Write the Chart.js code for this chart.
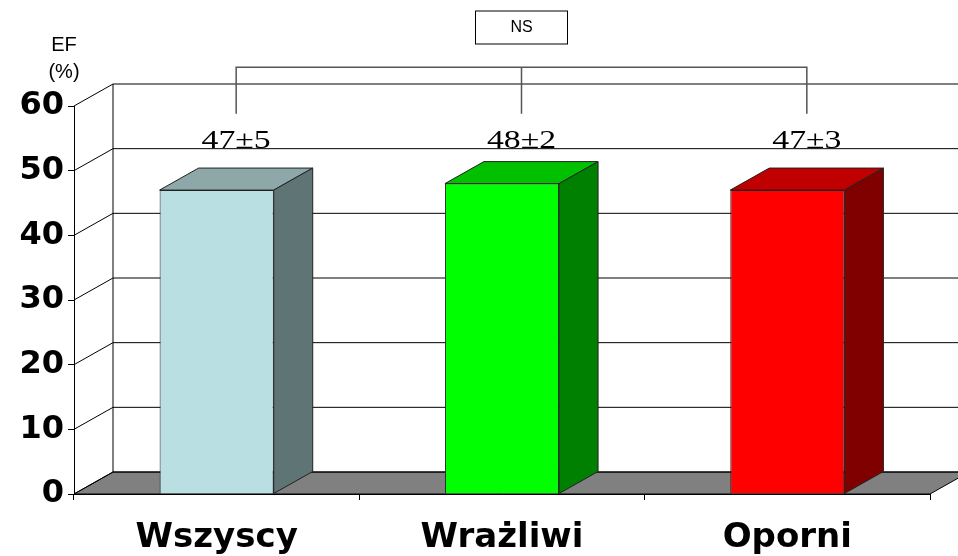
<!DOCTYPE html>
<html>
<head>
<meta charset="utf-8">
<script src="https://cdn.jsdelivr.net/npm/chart.js@4"></script>
<style>
  body { margin: 0; background: #fff; }
  #wrap { width: 958px; height: 556px; }
</style>
</head>
<body>
<div id="wrap"><canvas id="barEF" width="958" height="556"></canvas></div>
<script>
// dados
const grupos = ['Wszyscy', 'Wrażliwi', 'Oporni'];
const efMedia = [47, 48, 47];
const efDesvio = [5, 2, 3];
const yTicks = [0, 10, 20, 30, 40, 50, 60];

// cores
const corFrente = ['#b9dfe3', '#00ff00', '#ff0000'];
const corLado = ['#5e7475', '#008000', '#800000'];
const corTopo = ['#8ea8aa', '#00c000', '#c00000'];

// profundidade do efeito 3D
const DX = 39, DY = -22;

function poly(ctx, pts, fill) {
    ctx.beginPath();
    ctx.moveTo(pts[0][0], pts[0][1]);
    for (let i = 1; i < pts.length; i++) ctx.lineTo(pts[i][0], pts[i][1]);
    ctx.closePath();
    if (fill) { ctx.fillStyle = fill; ctx.fill(); }
    ctx.stroke();
}

const caixa3d = {
    id: 'caixa3d',
    beforeDatasetsDraw(chart) {
        const { ctx, chartArea: a, scales: { y } } = chart;
        const y0 = y.getPixelForValue(0);
        ctx.save();
        ctx.strokeStyle = '#000';
        ctx.lineWidth = 1;
        // chao
        poly(ctx, [[a.left, y0], [a.right, y0], [a.right + DX, y0 + DY], [a.left + DX, y0 + DY]], '#808080');
        // parede do fundo e lateral
        yTicks.forEach(v => {
            const py = y.getPixelForValue(v);
            ctx.beginPath();
            ctx.moveTo(a.left, py);
            ctx.lineTo(a.left + DX, py + DY);
            ctx.lineTo(chart.width + 5, py + DY);
            ctx.stroke();
        });
        ctx.beginPath();
        ctx.moveTo(a.left + DX, y.getPixelForValue(yTicks[yTicks.length - 1]) + DY);
        ctx.lineTo(a.left + DX, y0 + DY);
        ctx.stroke();
        ctx.restore();
    },
    afterDatasetsDraw(chart) {
        const { ctx, scales: { y } } = chart;
        const meta = chart.getDatasetMeta(0);
        ctx.save();
        ctx.strokeStyle = '#222';
        ctx.lineWidth = 1;
        const centros = [];
        meta.data.forEach((bar, i) => {
            const p = bar.getProps(['x', 'y', 'base', 'width'], true);
            const l = p.x - p.width / 2, r = p.x + p.width / 2;
            poly(ctx, [[l, p.y], [r, p.y], [r + DX, p.y + DY], [l + DX, p.y + DY]], corTopo[i]);
            poly(ctx, [[r, p.y], [r + DX, p.y + DY], [r + DX, p.base + DY], [r, p.base]], corLado[i]);
            centros.push(p.x + DX / 2);
        });

        // rotulos media +- desvio
        const yRot = y.getPixelForValue(53.5);
        ctx.fillStyle = '#000';
        ctx.font = "25px 'Liberation Serif', serif";
        ctx.textAlign = 'center';
        ctx.textBaseline = 'alphabetic';
        centros.forEach((cx, i) => {
            ctx.save();
            ctx.translate(cx, yRot);
            ctx.scale(1.35, 1);
            ctx.fillText(efMedia[i] + '±' + efDesvio[i], 0, 0);
            ctx.restore();
        });

        // colchete NS
        const yTop = y.getPixelForValue(66), yBot = y.getPixelForValue(58.8);
        ctx.strokeStyle = '#555';
        ctx.lineWidth = 1.5;
        ctx.beginPath();
        ctx.moveTo(centros[0], yBot); ctx.lineTo(centros[0], yTop);
        ctx.lineTo(centros[2], yTop); ctx.lineTo(centros[2], yBot);
        ctx.moveTo(centros[1], yTop); ctx.lineTo(centros[1], yBot);
        ctx.stroke();

        const bx = centros[1];
        ctx.strokeStyle = '#000';
        ctx.lineWidth = 1;
        ctx.fillStyle = '#fff';
        ctx.fillRect(bx - 46, 11, 92, 33);
        ctx.strokeRect(bx - 46, 11, 92, 33);
        ctx.fillStyle = '#000';
        ctx.font = "16px 'Liberation Sans', Arial, sans-serif";
        ctx.textBaseline = 'middle';
        ctx.fillText('NS', bx, 28);

        // titulo do eixo
        ctx.font = "20px 'Liberation Sans', Arial, sans-serif";
        ctx.fillText('EF', 64, 45);
        ctx.fillText('(%)', 64, 72);
        ctx.restore();
    }
};

const configEF = {
    type: 'bar',
    data: {
        labels: grupos,
        datasets: [{
            label: 'EF',
            data: efMedia,
            backgroundColor: corFrente,
            borderColor: '#222',
            borderWidth: 1,
            barPercentage: 0.4,
            categoryPercentage: 1
        }]
    },
    options: {
        responsive: false,
        animation: false,
        layout: { padding: { top: 106, right: 28, left: 0, bottom: 0 } },
        scales: {
            x: {
                grid: { drawOnChartArea: false, drawTicks: true, tickLength: 6, tickColor: '#000' },
                border: { display: true, color: '#000', width: 1 },
                ticks: {
                    color: '#000',
                    padding: 18,
                    font: { family: "'DejaVu Sans', sans-serif", weight: 'bold', size: 34 }
                },
                afterFit(scale) { scale.height = 62; }
            },
            y: {
                min: 0,
                max: 60,
                grid: { drawOnChartArea: false, drawTicks: true, tickLength: 6, tickColor: '#000' },
                border: { display: true, color: '#000', width: 1 },
                ticks: {
                    stepSize: 10,
                    color: '#000',
                    padding: 4,
                    font: { family: "'DejaVu Sans', sans-serif", weight: 'bold', size: 32 }
                },
                afterFit(scale) { scale.width = 74; }
            }
        },
        plugins: {
            legend: { display: false },
            tooltip: { enabled: false }
        }
    },
    plugins: [caixa3d]
};

new Chart(document.getElementById('barEF').getContext('2d'), configEF);
</script>
</body>
</html>
